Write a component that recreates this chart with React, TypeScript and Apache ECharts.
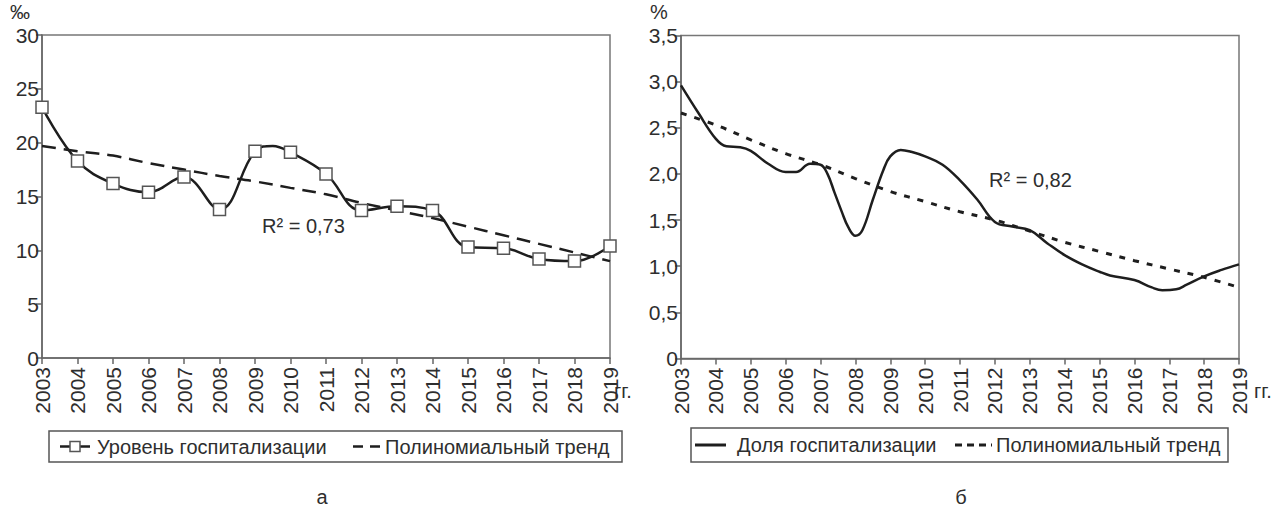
import React, { useEffect, useRef } from "react";
import * as echarts from "echarts";

// ---- data ----
const years = [2003, 2004, 2005, 2006, 2007, 2008, 2009, 2010, 2011, 2012, 2013, 2014, 2015, 2016, 2017, 2018, 2019];
const hospLevel = [23.3, 18.3, 16.2, 15.4, 16.8, 13.8, 19.2, 19.1, 17.1, 13.7, 14.1, 13.7, 10.3, 10.2, 9.2, 9.0, 10.4];
// peak of the drawn curve between the 2009 and 2010 markers
const levelPeakX = 2009.5;
const levelPeakY = 19.7;
const levelTrend = [19.7, 19.2, 18.8, 18.1, 17.5, 16.9, 16.4, 15.8, 15.2, 14.4, 13.7, 13.0, 12.2, 11.4, 10.6, 9.8, 9.0];

const shareX = [2003, 2003.5, 2004, 2004.3, 2004.7, 2005, 2005.5, 2006, 2006.3, 2006.7, 2007, 2007.2, 2007.4, 2007.6, 2007.8, 2008, 2008.2, 2008.5, 2008.8, 2009, 2009.3, 2009.6, 2010, 2010.5, 2011, 2011.5, 2012, 2012.5, 2013, 2013.5, 2014, 2014.5, 2015, 2015.3, 2016, 2016.5, 2016.8, 2017.2, 2017.5, 2018, 2018.5, 2019];
const shareValues = [2.96, 2.66, 2.38, 2.3, 2.29, 2.25, 2.11, 2.02, 2.02, 2.11, 2.1, 2.0, 1.8, 1.6, 1.42, 1.33, 1.39, 1.72, 2.04, 2.19, 2.26, 2.24, 2.19, 2.1, 1.93, 1.72, 1.48, 1.43, 1.39, 1.25, 1.12, 1.02, 0.94, 0.9, 0.85, 0.77, 0.74, 0.75, 0.8, 0.89, 0.96, 1.02];
const shareTrend = [2.66, 2.53, 2.37, 2.22, 2.1, 1.95, 1.81, 1.7, 1.59, 1.5, 1.38, 1.26, 1.16, 1.06, 0.97, 0.88, 0.77];

const leftYTicks = { min: 0, max: 30, interval: 5 };
const rightYTicks = { min: 0, max: 3.5, interval: 0.5 };

const leftLegend = ["Уровень госпитализации", "Полиномиальный тренд"];
const rightLegend = ["Доля госпитализации", "Полиномиальный тренд"];

const FONT = "'Liberation Sans', Arial, Helvetica, sans-serif";
const TXT = "#2e2e2e";
const AX = "#666";
const LINE = "#1e1e1e";

function xAxis(gridIndex: number) {
  return {
    gridIndex,
    type: "value",
    min: 2003,
    max: 2019,
    interval: 1,
    axisLine: { show: true, lineStyle: { color: AX, width: 1.5 } },
    axisTick: { show: true, length: 6, lineStyle: { color: AX, width: 1.5 } },
    axisLabel: { rotate: 90, margin: 9, fontSize: 21, color: TXT, fontFamily: FONT, formatter: (v: number) => String(v) },
    splitLine: { show: false },
  };
}

function yAxis(gridIndex: number, t: { min: number; max: number; interval: number }, fmt: (v: number) => string) {
  return {
    gridIndex,
    type: "value",
    min: t.min,
    max: t.max,
    interval: t.interval,
    axisLine: { show: true, lineStyle: { color: AX, width: 1.5 } },
    axisTick: { show: true, length: 6, lineStyle: { color: AX, width: 1.5 } },
    axisLabel: { margin: 3, fontSize: 21, color: TXT, fontFamily: FONT, formatter: fmt },
    splitLine: { show: false },
  };
}

const txt = (x: number, y: number, text: string, extra: any = {}) => ({
  type: "text",
  x,
  y,
  silent: true,
  style: { text, fill: TXT, font: `20px ${FONT}`, verticalAlign: "middle", ...extra },
});

export default function App() {
  const ref = useRef<HTMLDivElement>(null);
  useEffect(() => {
    if (!ref.current) return;
    const chart = echarts.init(ref.current, undefined, { renderer: "svg" });
    const levelData: any[] = [];
    years.forEach((y, i) => {
      levelData.push([y, hospLevel[i]]);
      if (y === 2009) levelData.push({ value: [levelPeakX, levelPeakY], symbol: "none" });
    });
    const option: any = {
      animation: false,
      backgroundColor: "#fff",
      grid: [
        { left: 42, top: 35, width: 568, height: 323, show: true, borderColor: "#777", borderWidth: 1.5 },
        { left: 681, top: 35.5, width: 558, height: 323, show: true, borderColor: "#777", borderWidth: 1.5 },
      ],
      xAxis: [xAxis(0), xAxis(1)],
      yAxis: [
        yAxis(0, leftYTicks, (v: number) => String(v)),
        yAxis(1, rightYTicks, (v: number) => (v === 0 ? "0" : v.toFixed(1).replace(".", ","))),
      ],
      series: [
        {
          name: leftLegend[1],
          type: "line",
          xAxisIndex: 0,
          yAxisIndex: 0,
          smooth: 0.35,
          showSymbol: false,
          data: years.map((y, i) => [y, levelTrend[i]]),
          lineStyle: { color: LINE, width: 2.5, type: [14, 8] },
          z: 2,
        },
        {
          name: leftLegend[0],
          type: "line",
          xAxisIndex: 0,
          yAxisIndex: 0,
          smooth: 0.4,
          symbol: "rect",
          symbolSize: 12,
          data: levelData,
          lineStyle: { color: LINE, width: 2.5 },
          itemStyle: { color: "#fff", borderColor: "#555", borderWidth: 1.5 },
          z: 3,
        },
        {
          name: rightLegend[1],
          type: "line",
          xAxisIndex: 1,
          yAxisIndex: 1,
          smooth: 0.35,
          showSymbol: false,
          data: years.map((y, i) => [y, shareTrend[i]]),
          lineStyle: { color: LINE, width: 3, type: [6, 8] },
          z: 2,
        },
        {
          name: rightLegend[0],
          type: "line",
          xAxisIndex: 1,
          yAxisIndex: 1,
          smooth: 0.4,
          showSymbol: false,
          data: shareX.map((x, i) => [x, shareValues[i]]),
          lineStyle: { color: LINE, width: 2.5 },
          z: 3,
        },
      ],
      graphic: [
        txt(10, 12, "‰"),
        txt(650, 12, "%"),
        txt(614, 391, "гг."),
        txt(1254, 391, "гг."),
        txt(262, 226, "R² = 0,73"),
        txt(989, 180, "R² = 0,82"),
        txt(322, 497, "а", { align: "center" }),
        txt(961, 497, "б", { align: "center" }),
        // left legend
        { type: "rect", shape: { x: 49, y: 431, width: 573, height: 31 }, style: { fill: "none", stroke: "#555", lineWidth: 1.5 }, silent: true },
        { type: "line", shape: { x1: 60, y1: 446.5, x2: 90, y2: 446.5 }, style: { stroke: LINE, lineWidth: 2.5 }, silent: true },
        { type: "rect", shape: { x: 70, y: 441.5, width: 10, height: 10 }, style: { fill: "#fff", stroke: "#555", lineWidth: 1.5 }, silent: true },
        txt(97, 446.5, leftLegend[0]),
        { type: "line", shape: { x1: 353, y1: 446.5, x2: 381, y2: 446.5 }, style: { stroke: LINE, lineWidth: 2.5, lineDash: [10, 7] }, silent: true },
        txt(385, 446.5, leftLegend[1]),
        // right legend
        { type: "rect", shape: { x: 691, y: 428, width: 537, height: 34 }, style: { fill: "none", stroke: "#555", lineWidth: 1.5 }, silent: true },
        { type: "line", shape: { x1: 695, y1: 445, x2: 726, y2: 445 }, style: { stroke: LINE, lineWidth: 3 }, silent: true },
        txt(737, 445, rightLegend[0]),
        { type: "line", shape: { x1: 955, y1: 445, x2: 992, y2: 445 }, style: { stroke: LINE, lineWidth: 3, lineDash: [7, 5] }, silent: true },
        txt(996, 445, rightLegend[1]),
      ],
    };
    chart.setOption(option);
    return () => chart.dispose();
  }, []);
  return <div ref={ref} style={{ position: "fixed", left: 0, top: 0, width: 1281, height: 515 }} />;
}
